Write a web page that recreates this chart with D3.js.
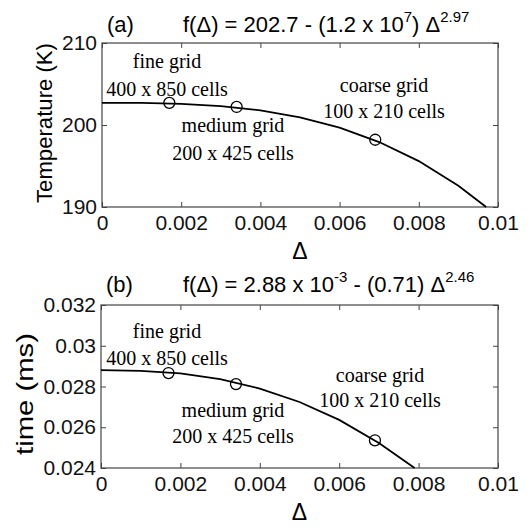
<!DOCTYPE html>
<html>
<head>
<meta charset="utf-8">
<script src="https://cdn.jsdelivr.net/npm/d3@7"></script>
<style>
  body { margin: 0; background: #fff; }
</style>
</head>
<body>
<div id="content"></div>
<script>
// Screen dimensions
var w = 530;
var h = 527;

// Shared x axis (grid spacing)
var xTicks = [0, 0.002, 0.004, 0.006, 0.008, 0.01];
var xTickLabels = ["0", "0.002", "0.004", "0.006", "0.008", "0.01"];

// Grid points
var gridDelta = [0.0017, 0.0034, 0.0069];
var gridNames = ["fine grid", "medium grid", "coarse grid"];
var gridCells = ["400 x 850 cells", "200 x 425 cells", "100 x 210 cells"];

// (a) temperature
var tempTicks = [190, 200, 210];
var tempTickLabels = ["190", "200", "210"];
var tempPoints = [202.7, 202.2, 198.2];
var tempCurveDelta = [0, 0.001, 0.002, 0.003, 0.004, 0.005, 0.006, 0.007, 0.008, 0.009, 0.0097];
var tempCurve = [202.7, 202.69, 202.58, 202.31, 201.79, 200.94, 199.68, 197.92, 195.6, 192.6, 190.0];

// (b) time
var timeTicks = [0.024, 0.026, 0.028, 0.030, 0.032];
var timeTickLabels = ["0.024", "0.026", "0.028", "0.03", "0.032"];
var timePoints = [0.02866, 0.02812, 0.02536];
var timeCurveDelta = [0, 0.001, 0.002, 0.003, 0.004, 0.005, 0.006, 0.007, 0.0079];
var timeCurve = [0.0288, 0.02877, 0.02864, 0.02836, 0.0279, 0.02724, 0.02636, 0.02523, 0.0240];

var sans = "'Liberation Sans', Arial, sans-serif";
var serif = "'Liberation Serif', 'Times New Roman', serif";

var svg = d3.select("#content")
    .append("svg")
    .attr("width", w)
    .attr("height", h);

function drawPanel(p) {
    var x = d3.scaleLinear().domain([0, 0.01]).range([p.left, p.right]);
    var y = d3.scaleLinear().domain(p.yDomain).range([p.bottom, p.top]);
    var g = svg.append("g");

    // inward ticks + labels
    var bx = g.append("g")
        .attr("transform", "translate(0," + p.bottom + ")")
        .call(d3.axisBottom(x).tickValues(xTicks)
            .tickFormat(function(d, i) { return xTickLabels[i]; })
            .tickSizeInner(-5).tickSizeOuter(0).tickPadding(8));
    var tx = g.append("g")
        .attr("transform", "translate(0," + p.top + ")")
        .call(d3.axisTop(x).tickValues(xTicks).tickFormat("")
            .tickSizeInner(-5).tickSizeOuter(0));
    var ly = g.append("g")
        .attr("transform", "translate(" + p.left + ",0)")
        .call(d3.axisLeft(y).tickValues(p.yTicks)
            .tickFormat(function(d, i) { return p.yTickLabels[i]; })
            .tickSizeInner(-5).tickSizeOuter(0).tickPadding(5));
    var ry = g.append("g")
        .attr("transform", "translate(" + p.right + ",0)")
        .call(d3.axisRight(y).tickValues(p.yTicks).tickFormat("")
            .tickSizeInner(-5).tickSizeOuter(0));
    [bx, tx, ly, ry].forEach(function(a) {
        a.select(".domain").remove();
        a.selectAll("line").attr("stroke", "#444");
        a.selectAll("text")
            .attr("fill", "#111")
            .style("font-family", sans)
            .style("font-size", "21px");
    });

    // frame
    g.append("rect")
        .attr("x", p.left).attr("y", p.top)
        .attr("width", p.right - p.left).attr("height", p.bottom - p.top)
        .attr("fill", "none")
        .attr("stroke", "#444")
        .attr("stroke-width", 1.2);

    // fitted curve
    var line = d3.line()
        .x(function(d, i) { return x(p.curveX[i]); })
        .y(function(d) { return y(d); });
    g.append("path")
        .datum(p.curveY)
        .attr("d", line)
        .attr("fill", "none")
        .attr("stroke", "#000")
        .attr("stroke-width", 1.8);

    // grid points
    g.selectAll("circle")
        .data(p.points)
        .enter()
        .append("circle")
        .attr("cx", function(d, i) { return x(gridDelta[i]); })
        .attr("cy", function(d) { return y(d); })
        .attr("r", 5.5)
        .attr("fill", "none")
        .attr("stroke", "#000")
        .attr("stroke-width", 1.3);

    // annotations
    p.labels.forEach(function(l, i) {
        g.append("text")
            .attr("x", l[0]).attr("y", l[1])
            .attr("text-anchor", "middle")
            .style("font-family", serif)
            .style("font-size", "20px")
            .text(gridNames[i]);
        g.append("text")
            .attr("x", l[0]).attr("y", l[2])
            .attr("text-anchor", "middle")
            .style("font-family", serif)
            .style("font-size", "20px")
            .text(gridCells[i]);
    });

    // title
    g.append("text")
        .attr("x", p.left + 5).attr("y", p.titleY)
        .style("font-family", sans).style("font-size", "22px")
        .text(p.tag);
    var t = g.append("text")
        .attr("x", 183).attr("y", p.titleY)
        .style("font-family", sans).style("font-size", "22px");
    p.formula.forEach(function(s) {
        var ts = t.append("tspan").text(s[0]);
        if (s[1]) ts.attr("dy", -10).style("font-size", "15px");
        else if (s[2]) ts.attr("dy", 10);
    });

    // axis titles
    g.append("text")
        .attr("transform", "translate(" + p.yLabelX + "," + p.yLabelY + ") rotate(-90)")
        .attr("text-anchor", "middle")
        .attr("textLength", p.yLabelLen)
        .attr("lengthAdjust", "spacingAndGlyphs")
        .style("font-family", sans).style("font-size", p.yLabelSize)
        .text(p.yLabel);
    g.append("text")
        .attr("x", (p.left + p.right) / 2).attr("y", p.bottom + 52)
        .attr("text-anchor", "middle")
        .style("font-family", sans).style("font-size", "23px")
        .text("\u0394");
}

drawPanel({
    left: 102, right: 498, top: 43, bottom: 207,
    yDomain: [190, 210], yTicks: tempTicks, yTickLabels: tempTickLabels,
    curveX: tempCurveDelta, curveY: tempCurve, points: tempPoints,
    labels: [[167, 68, 96], [233, 132, 160], [384, 92, 118]],
    titleY: 32, tag: "(a)",
    formula: [["f(\u0394) = 202.7 - (1.2 x 10"], ["7", true], [") \u0394", false, true], ["2.97", true]],
    yLabel: "Temperature (K)", yLabelX: 52, yLabelY: 123, yLabelLen: 160, yLabelSize: "22px"
});

drawPanel({
    left: 101, right: 498, top: 305, bottom: 468,
    yDomain: [0.024, 0.032], yTicks: timeTicks, yTickLabels: timeTickLabels,
    curveX: timeCurveDelta, curveY: timeCurve, points: timePoints,
    labels: [[167, 338, 365], [233, 417, 443], [380, 382, 407]],
    titleY: 292, tag: "(b)",
    formula: [["f(\u0394) = 2.88 x 10"], ["-3", true], [" - (0.71) \u0394", false, true], ["2.46", true]],
    yLabel: "time (ms)", yLabelX: 33, yLabelY: 394, yLabelLen: 122, yLabelSize: "24px"
});
</script>
</body>
</html>
